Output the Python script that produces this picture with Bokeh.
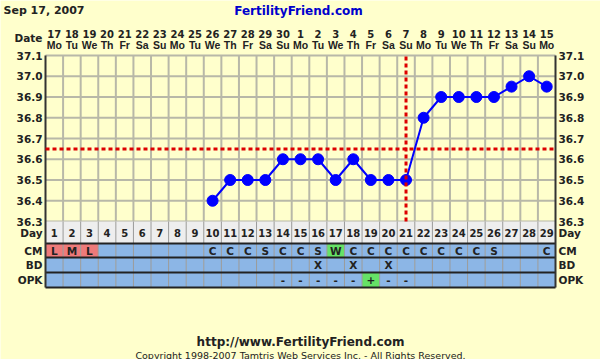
from bokeh.plotting import figure
from bokeh.models import Range1d, FixedTicker, LinearAxis, PrintfTickFormatter
from bokeh.embed import file_html
from bokeh.resources import INLINE
from bokeh.core.properties import value

# ---------------- data ----------------
days = list(range(1, 30))
dates = [17, 18, 19, 20, 21, 22, 23, 24, 25, 26, 27, 28, 29, 30,
         1, 2, 3, 4, 5, 6, 7, 8, 9, 10, 11, 12, 13, 14, 15]
weekdays = ["Mo", "Tu", "We", "Th", "Fr", "Sa", "Su"] * 4 + ["Mo"]
temp_days = list(range(10, 30))
temps = [36.4, 36.5, 36.5, 36.5, 36.6, 36.6, 36.6, 36.5, 36.6, 36.5,
         36.5, 36.5, 36.8, 36.9, 36.9, 36.9, 36.9, 36.95, 37.0, 36.95]
coverline = 36.65
ovulation_day = 21
temp_ticks = [36.3, 36.4, 36.5, 36.6, 36.7, 36.8, 36.9, 37.0, 37.1]
cm = ["L", "M", "L", "", "", "", "", "", "", "C", "C", "C", "S", "C", "C", "S", "W",
      "C", "C", "C", "C", "C", "C", "C", "C", "S", "", "", "C"]
bd = [""] * 15 + ["X", "", "X", "", "X"] + [""] * 9
opk = [""] * 13 + ["-", "-", "-", "-", "-", "+", "-", "-"] + [""] * 8
row_names = ["Day", "CM", "BD", "OPK"]
date_label = "Date"
title_date = "Sep 17, 2007"
site = "FertilityFriend.com"
footer_url = "http://www.FertilityFriend.com"
footer_copy = "Copyright 1998-2007 Tamtris Web Services Inc. - All Rights Reserved."

# ---------------- style / layout ----------------
BG = "#FFFFCC"
GRID = "#B8B8A8"
FONT = "DejaVu Sans"
FONT2 = "Liberation Sans"
TXT = "#222222"
BLUE_CELL = "#8CB6E6"
DAY_CELL = "#EEEEEE"
RED_CELL = "#EE7A7A"
GREEN_CELL = "#66E266"
cell_color = {"L": RED_CELL, "M": RED_CELL, "W": GREEN_CELL, "+": GREEN_CELL}

W, H = 600, 359
LEFT, RIGHT, TOP = 45, 45, 55          # chart area edges in page pixels
CHART_H = 166                           # pixel height of the temperature area
COLW = (W - LEFT - RIGHT) / len(days)
T_MIN, T_MAX = temp_ticks[0], temp_ticks[-1]
T_PER_PX = (T_MAX - T_MIN) / CHART_H
row_bounds = [(221, 243), (243, 257), (257, 272), (272, 287)]   # page-pixel rows
row_mid = [(a + b) / 2 for a, b in row_bounds]
TABLE_TOP, TABLE_BOTTOM = row_bounds[0][0], row_bounds[-1][1]

def px_to_t(py):
    return T_MAX - (py - TOP) * T_PER_PX

def px_to_x(px):
    return 0.5 + (px - LEFT) / COLW

p = figure(width=W, height=H,
           x_range=Range1d(px_to_x(0), px_to_x(W)),
           y_range=Range1d(px_to_t(H), px_to_t(0)),
           output_backend="svg", toolbar_location=None,
           x_axis_location=None, y_axis_location=None,
           min_border_left=0, min_border_right=0, min_border_top=0, min_border_bottom=0,
           background_fill_color=BG, border_fill_color=BG, outline_line_color=None)
p.extra_y_ranges = {"px": Range1d(start=H, end=0)}
for g in p.grid:
    g.visible = False

# ---------------- axes (drawn at fixed locations) ----------------
side_ticks = temp_ticks + [px_to_t(m) for m in row_mid]
side_over = {px_to_t(m): n for m, n in zip(row_mid, row_names)}
left_over = dict(side_over)
left_over[px_to_t(37)] = date_label

def side_axis(loc, ticks, over):
    return LinearAxis(fixed_location=loc, ticker=FixedTicker(ticks=ticks),
                      formatter=PrintfTickFormatter(format="%.1f"),
                      major_label_overrides=over,
                      major_label_text_font=FONT, major_label_text_font_style="bold",
                      major_label_text_font_size="10.5px", major_label_text_color=TXT,
                      major_tick_out=0, major_tick_in=0, minor_tick_out=0, minor_tick_in=0,
                      axis_line_color=None, major_label_standoff=3)

p.add_layout(side_axis(0.5, side_ticks + [px_to_t(37)], left_over), "left")
p.add_layout(side_axis(29.5, side_ticks, side_over), "right")

def top_axis(labels, standoff, font, size):
    return LinearAxis(fixed_location=T_MAX, ticker=FixedTicker(ticks=days),
                      major_label_overrides={d: str(l) for d, l in zip(days, labels)},
                      major_label_text_font=font, major_label_text_font_style="bold",
                      major_label_text_font_size=size, major_label_text_color=TXT,
                      major_tick_out=0, major_tick_in=0, minor_tick_out=0, minor_tick_in=0,
                      axis_line_color=None, major_label_standoff=standoff)

p.add_layout(top_axis(weekdays, 5, FONT2, "10.5px"), "above")
p.add_layout(top_axis(dates, 18, FONT, "10px"), "above")

# ---------------- chart grid ----------------
col_edges = [d + 0.5 for d in days[:-1]]
p.segment(x0=0.5, x1=29.5, y0=temp_ticks, y1=temp_ticks, line_color=GRID, line_width=2)
p.segment(x0=col_edges, x1=col_edges, y0=T_MIN, y1=T_MAX, line_color=GRID, line_width=2)

# ---------------- table ----------------
rows_values = [None, cm, bd, opk]
for (top, bot), vals in zip(row_bounds, rows_values):
    if vals is None:
        colors = [DAY_CELL] * len(days)
    else:
        colors = [cell_color.get(v, BLUE_CELL) for v in vals]
    p.rect(x=days, y=[(top + bot) / 2] * len(days), width=1, height=bot - top,
           fill_color=colors, line_color=None, y_range_name="px")

p.segment(x0=col_edges, x1=col_edges, y0=TABLE_TOP, y1=TABLE_BOTTOM, line_color="#9A9A9A",
          line_width=1, y_range_name="px")
row_lines = [b for _, b in row_bounds]
p.segment(x0=0.5, x1=29.5, y0=row_lines, y1=row_lines, line_color="#222222",
          line_width=2, y_range_name="px")
# outer frame borders (left / right)
p.segment(x0=[0.5, 29.5], x1=[0.5, 29.5], y0=TOP, y1=TABLE_BOTTOM, line_color="#333333",
          line_width=2, y_range_name="px")

p.text(x=days, y=[row_mid[0]] * len(days), text=[str(d) for d in days],
       text_align="center", text_baseline="middle", text_font=value(FONT),
       text_font_style="bold", text_font_size="10px", text_color=TXT, y_range_name="px")
for i, vals in enumerate([cm, bd, opk], start=1):
    xs = [d for d, v in zip(days, vals) if v]
    ts = [v for v in vals if v]
    p.text(x=xs, y=[row_mid[i]] * len(xs), text=ts, text_align="center",
           text_baseline="middle", text_font=value(FONT), text_font_style="bold",
           text_font_size="10.5px", text_color=TXT, y_range_name="px")

# ---------------- temperatures ----------------
p.line(temp_days, temps, line_color="#0000FF", line_width=2)
p.scatter(temp_days, temps, size=11, fill_color="#0000FF", line_color="#0000FF")

p.segment(x0=[0.5], x1=[29.5], y0=[coverline], y1=[coverline], line_color="#DD0000",
          line_width=3, line_dash="4 3")
p.segment(x0=[ovulation_day], x1=[ovulation_day], y0=[T_MIN], y1=[T_MAX],
          line_color="#DD0000", line_width=3, line_dash="4 3")

# ---------------- header / footer texts ----------------
p.text(x=[px_to_x(3)], y=[10], text=[title_date], text_baseline="middle",
       text_font=value(FONT), text_font_style="bold", text_font_size="11px",
       text_color=TXT, y_range_name="px")
p.text(x=[px_to_x(298)], y=[10], text=[site], text_align="center", text_baseline="middle",
       text_font=value(FONT), text_font_style="bold", text_font_size="12px",
       text_color="#0000CC", y_range_name="px")
p.text(x=[15], y=[341], text=[footer_url], text_align="center", text_baseline="middle",
       text_font=value(FONT), text_font_style="bold", text_font_size="12px", text_color=TXT,
       y_range_name="px")
p.text(x=[15], y=[354.5], text=[footer_copy], text_align="center", text_baseline="middle",
       text_font=value(FONT), text_font_size="9.5px", text_color=TXT, y_range_name="px")

open("out.html", "w").write(file_html(p, INLINE))
